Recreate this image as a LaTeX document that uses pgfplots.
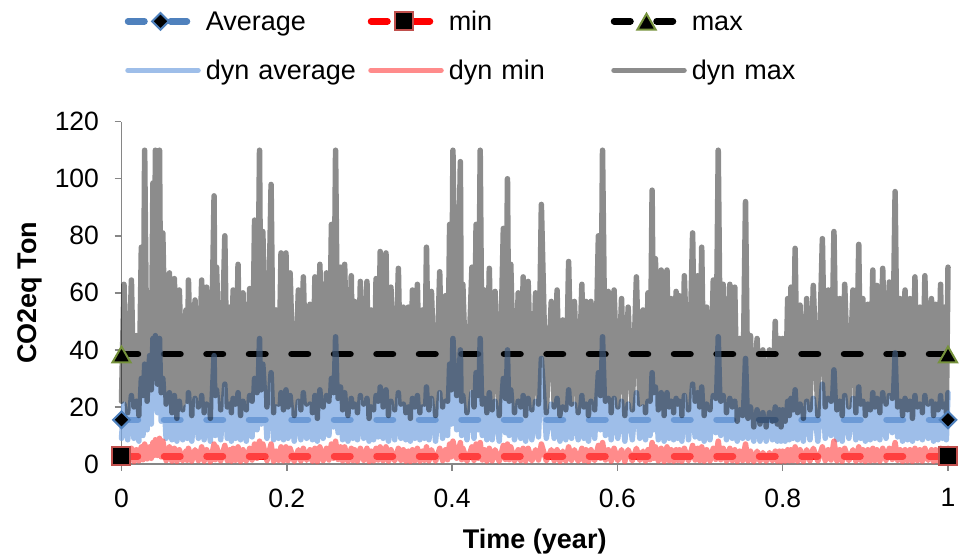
\documentclass[border=0pt]{standalone}
\usepackage{fontspec}
\setmainfont{Liberation Sans}
\usepackage{pgfplots}
\usepackage{pgfplotstable}
\pgfplotsset{compat=1.18}
\definecolor{axisgray}{RGB}{134,134,134}
\definecolor{avgblue}{RGB}{79,129,189}
\definecolor{mkred}{RGB}{192,80,77}
\definecolor{mkgreen}{RGB}{118,146,60}
\definecolor{dynblue}{RGB}{120,165,225}
\definecolor{dynred}{RGB}{255,90,90}
\newcommand{\tickfont}{\fontsize{26.5}{31}\selectfont}
\pgfplotsset{
  mklegend/.style={legend image code/.code={\draw[mark repeat=2,mark phase=2,##1] plot coordinates {(0pt,0pt) (32.5pt,0pt) (65pt,0pt)};}},
  dynlegend/.style={legend image code/.code={\draw[##1] plot coordinates {(0pt,0pt) (70pt,0pt)};}},
}
\pgfplotstableread{
x max avg min
0.000 22 9 1.0
0.003 63 21 5.0
0.0075 18 8.5 1.2
0.012 64.5 24 5.5
0.015 20 9 0.8
0.018 45 22 5
0.021 17 8 1.1
0.024 76 30 6
0.026 24 10 1.5
0.028 110 35 7
0.031 22 12 1.8
0.034 60 38 6
0.036 26 14 2
0.038 98.5 44 7.5
0.0395 30 20 3
0.041 110 45 8.5
0.0435 28 18 3
0.046 110 44 9
0.048 25 15 2.5
0.050 81 30 8
0.054 21 9 1.2
0.058 67 25 6
0.061 18 8.5 1.0
0.064 65 24 5.5
0.067 16 8 0.9
0.070 61 22 5
0.074 19 8.5 1.1
0.078 54 20 4.5
0.0795 22 9 1.3
0.081 64.5 25 5.5
0.085 17 8 1.0
0.089 57.5 23 5
0.093 20 9 1.2
0.097 64.5 24 6
0.100 18 8.5 1.0
0.103 62 21 5
0.1075 16 8 0.8
0.112 94 38 7
0.1135 24 10 1.5
0.115 69 26 6
0.120 19 8.5 1.1
0.125 80 28 6.5
0.128 20 9 1.2
0.131 55 21 5
0.133 18 8 1.0
0.135 61 23 5.5
0.138 21 9 1.3
0.141 70 25 6
0.144 17 8.5 0.9
0.147 60 22 5
0.151 19 8 1.1
0.155 61.5 24 5.5
0.158 22 9.5 1.4
0.161 85.5 30 7
0.164 25 12 2
0.167 110 44 8
0.169 26 14 2.5
0.171 81.5 35 7
0.176 20 9 1.2
0.181 98 32 7
0.184 18 8.5 1.0
0.187 54 20 4.5
0.190 21 9 1.3
0.193 74 25 6
0.196 19 8.5 1.1
0.199 74 26 6
0.2015 20 9 1.2
0.204 67 24 5.5
0.209 17 8 0.9
0.214 61 22 5
0.217 19 8.5 1.1
0.220 65.6 25 5.5
0.224 21 9 1.3
0.228 56 21 5
0.231 18 8.5 1.0
0.234 65.6 24 5.5
0.237 16 8 0.8
0.240 70 26 6
0.244 20 9 1.2
0.248 67 24 5.5
0.251 22 10 1.4
0.254 84 30 7
0.2565 25 13 2
0.259 110 44.6 8
0.262 23 11 1.6
0.265 69 27 6
0.2675 19 8.5 1.1
0.270 70 25 6
0.274 17 8 1.0
0.278 66 23 5.5
0.280 20 9 1.2
0.282 57 21 5
0.2855 18 8.5 1.0
0.289 64 24 5.5
0.293 21 9 1.3
0.297 64 23 5.5
0.2995 16 8 0.9
0.302 54 20 4.5
0.305 19 8.5 1.1
0.308 65 24 5.5
0.3105 22 9.5 1.4
0.313 74.5 27 6
0.3165 20 9 1.2
0.320 74 26 6
0.323 17 8 1.0
0.326 62 22 5
0.3305 19 8.5 1.1
0.335 68.6 25 5.5
0.338 21 9 1.3
0.341 55 21 5
0.344 18 8.5 1.0
0.347 55 20 4.5
0.3495 16 8 0.9
0.352 61 23 5
0.355 20 9 1.2
0.358 63 24 5.5
0.361 18 8.5 1.0
0.364 54 20 4.5
0.3665 21 9 1.3
0.369 76 27 6
0.372 19 8.5 1.1
0.375 60.5 23 5
0.380 17 8 1.0
0.385 67.4 25 5.5
0.3885 20 9 1.2
0.392 59 22 5
0.3945 22 10 1.5
0.397 84 35 7
0.399 26 14 2.5
0.401 110 44 8
0.4055 24 12 2
0.410 106 40 7.5
0.4115 22 10 1.5
0.413 63 24 5.5
0.418 18 8.5 1.0
0.424 69 25 6
0.4265 20 9 1.3
0.429 84 32 7
0.4315 24 12 2
0.434 110 44 7.5
0.4365 21 10 1.4
0.439 61 23 5
0.442 18 8.5 1.0
0.445 68.6 25 5.5
0.4485 19 8.5 1.1
0.452 60.5 22 5
0.457 17 8 0.9
0.462 82.6 30 6.5
0.4645 23 11 1.6
0.467 100 40 7
0.469 22 10 1.5
0.471 70 26 6
0.4755 18 8.5 1.0
0.480 60 22 5
0.483 20 9 1.2
0.486 65.6 24 5.5
0.489 17 8 1.0
0.492 64 23 5.5
0.4965 19 8.5 1.1
0.501 60 22 5
0.5045 21 9.5 1.4
0.508 91 37 7
0.514 18 9 1.1
0.520 57 21 5
0.5235 20 9 1.2
0.527 61 23 5
0.5305 17 8 0.9
0.534 50.5 20 4.5
0.5375 19 8.5 1.1
0.541 71 26 6
0.5445 21 9 1.3
0.548 57 21 5
0.5525 18 8.5 1.0
0.557 63 24 5.5
0.5595 20 9 1.2
0.562 57 21 5
0.565 17 8 0.9
0.568 57 22 5
0.5725 19 9 1.2
0.577 80 32 6.5
0.5795 24 12 2
0.582 110 44.6 7.5
0.5855 22 10 1.4
0.589 60.5 23 5
0.5925 18 8.5 1.0
0.596 61 23 5.5
0.6005 20 9 1.2
0.605 58 22 5
0.609 17 8 0.9
0.613 55 21 5
0.618 19 8.5 1.1
0.623 65.6 25 5.5
0.627 21 9 1.3
0.631 54 20 4.5
0.634 18 8.5 1.0
0.637 60 22 5
0.6395 22 10 1.5
0.642 96 32 7.5
0.644 25 12 2
0.646 72 27 6
0.6495 19 8.5 1.1
0.653 68 25 5.5
0.6565 17 8 0.9
0.660 68 25 6
0.6625 20 9 1.2
0.665 58 22 5
0.668 18 8.5 1.0
0.671 60.5 23 5
0.673 21 9 1.3
0.675 59 22 5
0.678 17 8 0.9
0.681 66 24 5.5
0.686 19 8.5 1.1
0.691 81 28 6.5
0.694 22 9.5 1.4
0.697 66 25 5.5
0.6995 20 9 1.2
0.702 76 27 6
0.705 17 8 1.0
0.708 55 21 5
0.712 19 8.5 1.1
0.716 64.5 24 5.5
0.719 23 11 1.6
0.722 110 44.6 8
0.725 22 10 1.5
0.728 63 24 5.5
0.732 18 8.5 1.0
0.736 63 23 5.5
0.739 20 9 1.2
0.742 62 22 5
0.745 15 8 0.9
0.748 44 19 4.5
0.7515 17 9 1.2
0.755 92 37 7
0.758 16 9 1.1
0.761 45 20 4.5
0.765 13 8 0.8
0.769 44 19 4.5
0.7725 14 8 1.0
0.776 40 18 4
0.780 13 8 0.9
0.784 40 18 4
0.7875 15 8.5 1.1
0.791 50 20 4.5
0.7935 14 8 1.0
0.796 44 19 4.5
0.798 13 8 0.9
0.800 44 19 4.5
0.803 15 8 1.0
0.806 58 22 5
0.808 17 8.5 1.1
0.810 62 23 5
0.8125 19 9 1.2
0.815 75.6 26 6
0.818 18 8.5 1.0
0.821 55.7 21 5
0.825 16 8 0.9
0.829 58 22 5
0.833 19 8.5 1.1
0.837 62.6 23 5.5
0.8425 17 8 1.0
0.848 79 28 6
0.8515 20 9 1.2
0.855 61 23 5
0.8585 22 10 1.4
0.862 81.5 33 8
0.8655 19 8.5 1.1
0.869 58 22 5
0.872 17 8 0.9
0.875 63 24 5.5
0.880 20 9 1.2
0.885 61 23 5
0.8885 18 8.5 1.0
0.892 77 27 6
0.8945 21 9 1.3
0.897 58 22 5
0.900 17 8 0.9
0.903 56 21 5
0.906 19 8.5 1.1
0.909 68 25 5.5
0.9115 20 9 1.2
0.914 62.6 23 5
0.9175 18 8.5 1.0
0.921 68.6 25 5.5
0.925 21 9 1.3
0.929 63.8 24 5.5
0.9325 23 11 1.6
0.936 95.5 39 7.5
0.939 20 9.5 1.3
0.942 58 22 5
0.945 17 8 0.9
0.948 61 23 5
0.951 19 8.5 1.1
0.954 58 22 5
0.957 16 8 0.9
0.960 65.6 24 5.5
0.963 20 9 1.2
0.966 55 21 5
0.969 18 8.5 1.0
0.972 66 24 5.5
0.976 21 9 1.3
0.980 58 22 5
0.9825 17 8 0.9
0.985 56 21 5
0.988 19 8.5 1.1
0.991 63 24 5.5
0.9935 20 9 1.2
0.996 55 21 5
0.998 18 8.5 1.0
1.000 69 25 5.5
}\dyndata

\begin{document}
\begin{tikzpicture}
\begin{axis}[
  at={(0pt,0pt)}, anchor=south west,
  scale only axis, width=826.5pt, height=342.3pt,
  xmin=0, xmax=1, ymin=0, ymax=120,
  axis x line*=bottom, axis y line*=left,
  axis line style={axisgray, line width=1.5pt},
  tick style={axisgray, line width=1.5pt},
  major tick length=7pt, tick align=outside,
  xtick={0,0.2,0.4,0.6,0.8,1}, ytick={0,20,40,60,80,100,120},
  /pgf/number format/assume math mode=true,
  xticklabel={\tickfont\pgfmathprintnumber{\tick}},
  yticklabel={\tickfont\pgfmathprintnumber{\tick}},
  yticklabel style={font=\tickfont, xshift=-12pt},
  xticklabel style={font=\tickfont, yshift=-14pt},
  clip=false,
  xlabel={Time (year)}, ylabel={CO2eq Ton},
  label style={font=\fontsize{27}{32}\selectfont\bfseries},
  xlabel style={at={(axis description cs:0.5,-0.2456)}, anchor=base},
  ylabel style={at={(axis description cs:-0.1028,0.5)}, anchor=base},
  legend columns=3,
  legend cell align=left,
  legend style={at={(axis description cs:0.00393,1.3442)}, anchor=north west,
     draw=none, fill=none, inner sep=0pt, outer sep=0pt,
     row sep=14.2pt, column sep=0pt,
     font=\fontsize{27}{32}\selectfont,
     nodes={text width=157pt, text height=25.1pt, text depth=5.7pt, inner xsep=5pt, inner ysep=2pt, align=left}},
]
\addplot[avgblue, line width=6.5pt, line cap=round, dash pattern=on 16.5pt off 26pt,
  mark=square*, mark size=5.9pt, mark options={solid, rotate=45, fill=black, draw=avgblue, line width=2pt}, mklegend]
  coordinates {(0,15.5) (1,15.5)};
\addlegendentry{Average}
\addplot[red, line width=6.5pt, line cap=round, dash pattern=on 16.5pt off 26pt,
  mark=square*, mark size=9pt, mark options={solid, fill=black, draw=mkred, line width=2pt}, mklegend]
  coordinates {(0,2.7) (1,2.7)};
\addlegendentry{min}
\addplot[black, line width=6.5pt, line cap=round, dash pattern=on 16.5pt off 26pt,
  mark=triangle*, mark size=10.5pt, mark options={solid, fill=black, draw=mkgreen, line width=2pt, yshift=-3pt}, mklegend]
  coordinates {(0,38.5) (1,38.5)};
\addlegendentry{max}
\addplot[dynblue, draw opacity=0.72, line width=5.5pt, line cap=round, line join=round, no marks, dynlegend]
  table[x=x, y=avg] {\dyndata};
\addlegendentry{dyn average}
\addplot[dynred, draw opacity=0.7, line width=5.5pt, line cap=round, line join=round, no marks, dynlegend]
  table[x=x, y=min] {\dyndata};
\addlegendentry{dyn min}
\addplot[black, draw opacity=0.45, line width=5.5pt, line cap=round, line join=round, no marks, dynlegend]
  table[x=x, y=max] {\dyndata};
\addlegendentry{dyn max}
\end{axis}
\pgfresetboundingbox
\useasboundingbox (-121.5pt,-92pt) rectangle (842.5pt,464pt);
\end{tikzpicture}
\end{document}
